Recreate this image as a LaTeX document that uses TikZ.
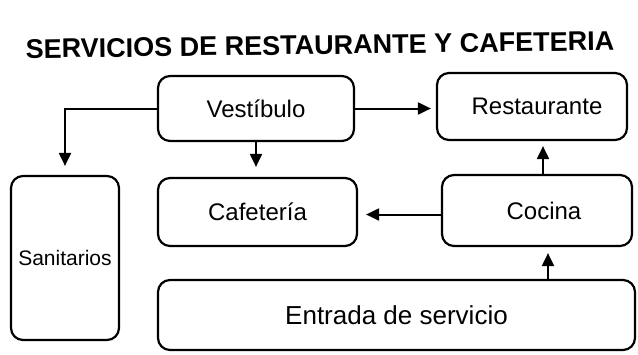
\documentclass[tikz,border=0pt]{standalone}
\usepackage{fontspec}
\setmainfont{Liberation Sans}
\usetikzlibrary{arrows.meta}

\begin{document}
\begin{tikzpicture}[x=1pt, y=-1pt,
	area/.style={draw, line width=2.2pt, rounded corners=12pt, inner sep=0pt, font=\fontsize{24}{28}\selectfont},
	flujo/.style={draw, line width=2pt, -{Triangle[length=13pt, width=12pt]}, shorten >=#1},
	flujo/.default=6pt]
	\useasboundingbox (0,0) rectangle (638,354);
	\node [font=\bfseries\fontsize{27}{31}\selectfont, rotate=0.8] (titulo) at (320,45) {SERVICIOS DE RESTAURANTE Y CAFETERIA};
	\node [area, minimum width=196pt, minimum height=65pt] (vestibulo) at (256,108.5) {Vestíbulo};
	\node [area, minimum width=190pt, minimum height=67pt] (restaurante) at (532,106.5) {\hspace{10pt}Restaurante};
	\node [area, minimum width=199pt, minimum height=68pt] (cafeteria) at (257.5,212) {Cafetería};
	\node [area, minimum width=190pt, minimum height=71pt] (cocina) at (537,210.5) {\hspace{14pt}Cocina};
	\node [area, minimum width=108pt, minimum height=164pt, font=\fontsize{21}{25}\selectfont] (sanitarios) at (65,258) {Sanitarios};
	\node [area, minimum width=477pt, minimum height=70pt, font=\fontsize{26}{30}\selectfont] (entrada) at (396.5,315) {\raisebox{-6pt}{Entrada de servicio}};
	\path [flujo=9pt] (vestibulo.west) -| (sanitarios.north);
	\path [flujo=10pt] (vestibulo.south) -- (vestibulo.south |- cafeteria.north);
	\path [flujo=5pt] (vestibulo.east) -- (vestibulo.east -| restaurante.west);
	\path [flujo=5pt] ([xshift=6pt]cocina.north) -- ([xshift=6pt]cocina.north |- restaurante.south);
	\path [flujo=8pt] ([yshift=-4pt]cocina.west) -- ([yshift=-4pt]cocina.west -| cafeteria.east);
	\path [flujo=6pt] ([xshift=11pt]cocina.south |- entrada.north) -- ([xshift=11pt]cocina.south);
\end{tikzpicture}
\end{document}
